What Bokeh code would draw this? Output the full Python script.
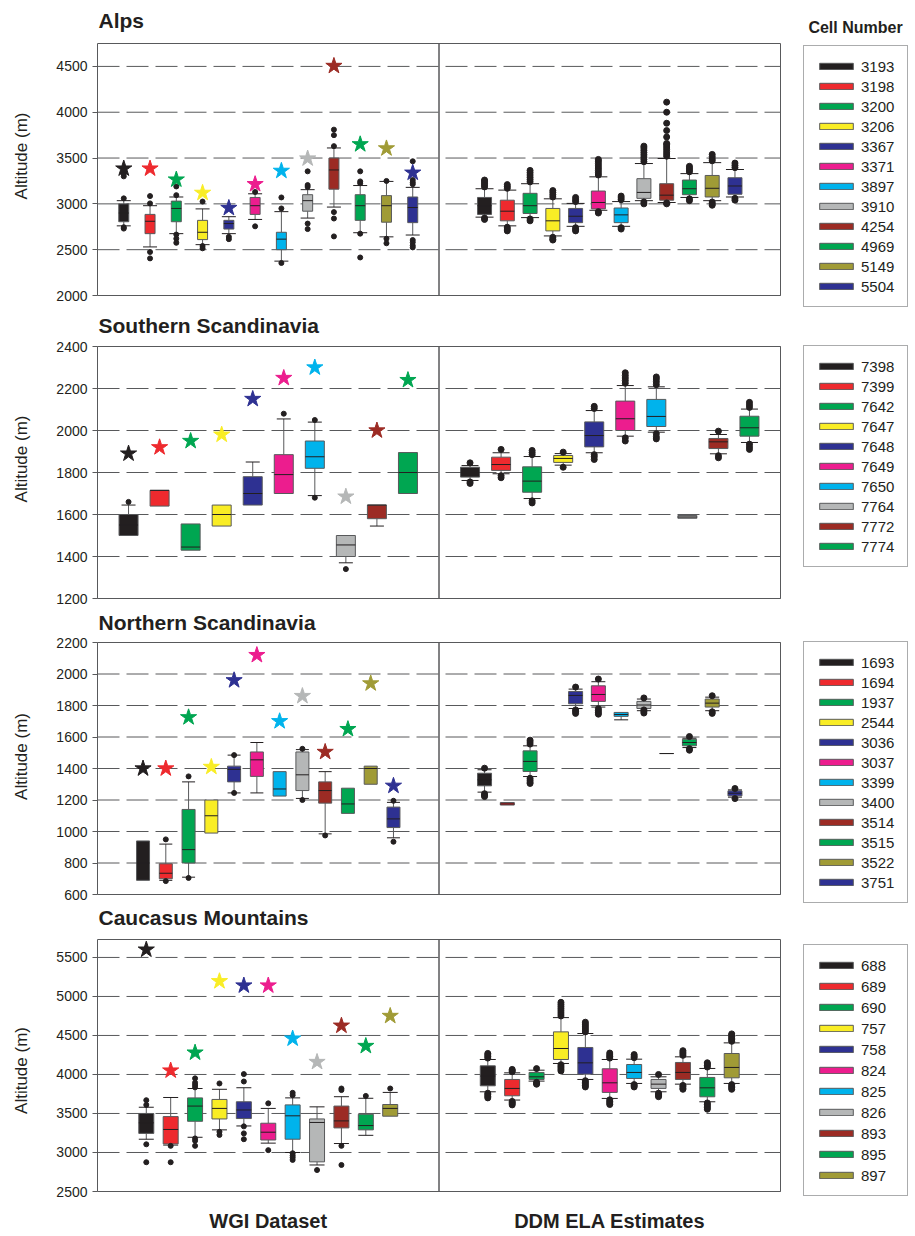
import math
from bokeh.plotting import figure
from bokeh.models import Range1d, FixedTicker, ColumnDataSource, Legend, LegendItem
from bokeh.core.properties import value
from bokeh.layouts import column
from bokeh.embed import file_html
from bokeh.resources import INLINE

NAN = float("nan")

BLACK = "#231f20"
RED = "#ee2a2e"
GREEN = "#00a651"
YELLOW = "#f9ed25"
NAVY = "#2e3192"
PINK = "#ec1d8e"
CYAN = "#00b3ec"
GRAY = "#b5b7b7"
BROWN = "#9c2b24"
OLIVE = "#a09b36"

# ---------------- Alps ----------------
ALPS_CELLS = ["3193", "3198", "3200", "3206", "3367", "3371", "3897", "3910", "4254", "4969", "5149", "5504"]
ALPS_COLORS = [BLACK, RED, GREEN, YELLOW, NAVY, PINK, CYAN, GRAY, BROWN, GREEN, OLIVE, NAVY]
ALPS_TICKS = [2000, 2500, 3000, 3500, 4000, 4500]
ALPS_STAR = [3385, 3385, 3265, 3120, 2955, 3215, 3360, 3495, 4505, 3650, 3605, 3340]
ALPS_WGI_LO = [2760, 2530, 2675, 2555, 2675, 2830, 2375, 2845, 2965, 2685, 2640, 2660]
ALPS_WGI_Q1 = [2805, 2675, 2805, 2610, 2725, 2885, 2500, 2920, 3160, 2820, 2800, 2795]
ALPS_WGI_MED = [2900, 2810, 2950, 2690, 2785, 2980, 2615, 3035, 3370, 2980, 2980, 2960]
ALPS_WGI_Q3 = [3000, 2885, 3030, 2820, 2820, 3070, 2690, 3100, 3500, 3100, 3090, 3075]
ALPS_WGI_HI = [3035, 2980, 3075, 2945, 2860, 3110, 2915, 3155, 3610, 3200, 3245, 3180]
ALPS_WGI_OUT = [
    [3060, 3300, 3330, 2745, 2730],
    [3085, 3005, 2475, 2405],
    [3190, 3095, 2665, 2620, 2575],
    [3025, 2540, 2515],
    [2640, 2615],
    [3130, 2755],
    [3070, 2950, 2355],
    [3355, 3205, 3185, 2785, 2725],
    [3810, 3750, 3630, 2910, 2840, 2645],
    [3355, 3245, 3225, 2675, 2415],
    [3250, 2620, 2570],
    [3465, 3260, 3235, 3215, 2605, 2580, 2545, 2525],
]
ALPS_DDM_LO = [2855, 2760, 2850, 2650, 2755, 2930, 2755, 3035, 3015, 3070, 3035, 3075]
ALPS_DDM_Q1 = [2885, 2815, 2895, 2705, 2795, 2945, 2795, 3060, 3040, 3100, 3075, 3105]
ALPS_DDM_MED = [2980, 2920, 2980, 2815, 2865, 3015, 2880, 3125, 3095, 3165, 3170, 3195]
ALPS_DDM_Q3 = [3070, 3040, 3115, 2950, 2950, 3140, 2955, 3275, 3220, 3260, 3310, 3285]
ALPS_DDM_HI = [3165, 3150, 3220, 3055, 3005, 3295, 3025, 3440, 3495, 3330, 3450, 3375]
ALPS_DDM_OUT = [
    [3185, 3205, 3225, 3245, 3260, 2845, 2830],
    [3170, 3190, 3210, 2745, 2725, 2705],
    [3240, 3265, 3290, 3315, 3340, 3365, 2835, 2815],
    [3075, 3100, 3125, 3145, 2635, 2615, 2605],
    [3025, 3045, 3070, 2740, 2720, 2705],
    [3315, 3340, 3365, 3390, 3415, 3440, 3465, 3485, 2915, 2900],
    [3045, 3065, 3085, 2740, 2725],
    [3460, 3485, 3510, 3535, 3560, 3585, 3610, 3630, 3020, 3000],
    [3520, 3545, 3570, 3595, 3620, 3645, 3660, 3730, 3800, 3880, 4000, 4110, 3010, 3000],
    [3350, 3370, 3390, 3410, 3055, 3035],
    [3470, 3490, 3515, 3540, 3020, 3000, 2985],
    [3395, 3420, 3445, 3060, 3040],
]

# ---------------- Southern Scandinavia ----------------
SS_CELLS = ["7398", "7399", "7642", "7647", "7648", "7649", "7650", "7764", "7772", "7774"]
SS_COLORS = [BLACK, RED, GREEN, YELLOW, NAVY, PINK, CYAN, GRAY, BROWN, GREEN]
SS_TICKS = [1200, 1400, 1600, 1800, 2000, 2200, 2400]
SS_STAR = [1890, 1920, 1950, 1980, 2150, 2250, 2300, 1685, 2000, 2240]
SS_WGI_LO = [1500, 1640, 1430, 1545, 1645, 1700, 1690, 1370, 1545, 1700]
SS_WGI_Q1 = [1500, 1640, 1430, 1545, 1645, 1700, 1820, 1400, 1580, 1700]
SS_WGI_MED = [1550, 1715, 1445, 1600, 1700, 1790, 1875, 1455, 1645, 1800]
SS_WGI_Q3 = [1600, 1715, 1555, 1645, 1780, 1885, 1950, 1500, 1645, 1895]
SS_WGI_HI = [1645, 1715, 1555, 1645, 1850, 2055, 2040, 1500, 1645, 1895]
SS_WGI_OUT = [[1660], [], [], [], [], [2080], [2050, 1680], [1340], [], []]
SS_DDM_LO = [1762, 1794, 1676, 1835, 1894, 1973, 1992, 1582, 1889, 1943]
SS_DDM_Q1 = [1778, 1810, 1706, 1848, 1922, 2000, 2019, 1582, 1914, 1973]
SS_DDM_MED = [1800, 1838, 1759, 1867, 1976, 2056, 2067, 1588, 1946, 2013]
SS_DDM_Q3 = [1825, 1873, 1827, 1881, 2041, 2140, 2148, 1595, 1962, 2068]
SS_DDM_HI = [1833, 1894, 1876, 1890, 2095, 2214, 2208, 1595, 1981, 2102]
SS_DDM_OUT = [
    [1846, 1755, 1748],
    [1910, 1785, 1775],
    [1885, 1895, 1905, 1665, 1655],
    [1897, 1825],
    [2105, 2115, 1885, 1875, 1862],
    [2225, 2238, 2250, 2262, 2275, 1965, 1950],
    [2218, 2232, 2245, 2255, 1985, 1970, 1960],
    [],
    [1997, 1880, 1870],
    [2110, 2122, 2134, 1935, 1922, 1910],
]

# ---------------- Northern Scandinavia ----------------
NS_CELLS = ["1693", "1694", "1937", "2544", "3036", "3037", "3399", "3400", "3514", "3515", "3522", "3751"]
NS_COLORS = [BLACK, RED, GREEN, YELLOW, NAVY, PINK, CYAN, GRAY, BROWN, GREEN, OLIVE, NAVY]
NS_TICKS = [600, 800, 1000, 1200, 1400, 1600, 1800, 2000, 2200]
NS_STAR = [1400, 1400, 1725, 1410, 1960, 2120, 1700, 1860, 1505, 1650, 1940, 1290]
NS_WGI_LO = [690, 690, 710, 990, 1245, 1245, 1225, 1210, 985, 1115, 1300, 960]
NS_WGI_Q1 = [690, 700, 800, 990, 1315, 1350, 1225, 1260, 1180, 1115, 1300, 1025]
NS_WGI_MED = [800, 735, 885, 1100, 1395, 1455, 1270, 1360, 1260, 1175, 1400, 1080]
NS_WGI_Q3 = [940, 795, 1140, 1200, 1415, 1505, 1380, 1505, 1315, 1275, 1415, 1155]
NS_WGI_HI = [940, 920, 1315, 1200, 1485, 1565, 1380, 1520, 1380, 1275, 1415, 1185]
NS_WGI_OUT = [[], [950, 685], [1350, 705], [], [1485, 1245], [], [], [1525, 1200], [975], [], [], [1195, 935]]
NS_DDM_LO = [1250, 1168, 1349, NAN, 1781, 1790, 1709, 1767, 1495, 1533, 1767, 1218]
NS_DDM_Q1 = [1290, 1168, 1381, NAN, 1811, 1826, 1731, 1781, 1495, 1544, 1790, 1226]
NS_DDM_MED = [1328, 1175, 1445, NAN, 1864, 1870, 1743, 1803, 1495, 1565, 1815, 1243]
NS_DDM_Q3 = [1370, 1184, 1512, NAN, 1889, 1925, 1756, 1826, 1495, 1586, 1841, 1258]
NS_DDM_HI = [1392, 1184, 1544, NAN, 1904, 1951, 1756, 1841, 1495, 1592, 1853, 1264]
NS_DDM_OUT = [
    [1402, 1240, 1230, 1222],
    [],
    [1555, 1568, 1580, 1338, 1326, 1314, 1305],
    [],
    [1917, 1772, 1762, 1750],
    [1968, 1780, 1768, 1756, 1745],
    [],
    [1848, 1772, 1762, 1752],
    [],
    [1603, 1526, 1516],
    [1862, 1760, 1750],
    [1273, 1209],
]

# ---------------- Caucasus Mountains ----------------
CA_CELLS = ["688", "689", "690", "757", "758", "824", "825", "826", "893", "895", "897"]
CA_COLORS = [BLACK, RED, GREEN, YELLOW, NAVY, PINK, CYAN, GRAY, BROWN, GREEN, OLIVE]
CA_TICKS = [2500, 3000, 3500, 4000, 4500, 5000, 5500]
CA_STAR = [5600, 4050, 4280, 5195, 5140, 5140, 4460, 4160, 4625, 4365, 4750]
CA_WGI_LO = [3170, 3095, 3195, 3290, 3340, 3120, 3000, 2840, 3115, 3220, 3465]
CA_WGI_Q1 = [3245, 3110, 3400, 3430, 3435, 3160, 3170, 2880, 3315, 3290, 3465]
CA_WGI_MED = [3380, 3295, 3595, 3565, 3545, 3260, 3470, 3385, 3405, 3345, 3565]
CA_WGI_Q3 = [3500, 3460, 3700, 3680, 3650, 3375, 3610, 3430, 3595, 3490, 3615]
CA_WGI_HI = [3580, 3705, 3820, 3810, 3830, 3565, 3700, 3585, 3715, 3695, 3770]
CA_WGI_OUT = [
    [3670, 3610, 3105, 2875],
    [3085, 2875],
    [3950, 3895, 3865, 3835, 3180, 3150, 3085],
    [3885, 3265, 3225],
    [4005, 3910, 3335, 3245, 3170],
    [3630, 3030],
    [3765, 3735, 2990, 2960, 2935, 2905],
    [2775],
    [3820, 3800, 3085, 2840],
    [3725],
    [3820],
]
CA_DDM_LO = [3778, 3672, 3915, 4141, 3936, 3693, 3885, 3778, 3876, 3650, 3885]
CA_DDM_Q1 = [3855, 3727, 3936, 4192, 4004, 3770, 3949, 3821, 3936, 3714, 3957]
CA_DDM_MED = [3980, 3821, 3970, 4333, 4149, 3893, 4026, 3876, 4026, 3829, 4090]
CA_DDM_Q3 = [4111, 3936, 4026, 4546, 4346, 4073, 4128, 3936, 4154, 3962, 4269]
CA_DDM_HI = [4192, 4021, 4055, 4729, 4525, 4192, 4196, 3970, 4226, 4077, 4405]
CA_DDM_OUT = [
    [4210, 4230, 4250, 4270, 3760, 3740, 3720, 3700],
    [4035, 4050, 4065, 3655, 3640, 3625, 3610],
    [4075, 3900, 3885, 3875],
    [4750, 4775, 4800, 4825, 4850, 4875, 4900, 4925, 4125, 4105, 4085, 4065, 4045],
    [4545, 4570, 4595, 4620, 4645, 4670, 3920, 3900, 3880, 3860, 3840],
    [4210, 4230, 4250, 4275, 3675, 3655, 3635, 3615],
    [4215, 4235, 4255, 3870, 3855, 3840],
    [4000, 3760, 3745, 3730, 3715],
    [4245, 4265, 4285, 4305, 3860, 3845, 3825, 3810],
    [4095, 4115, 4135, 4150, 3635, 3615, 3595, 3575, 3555],
    [4425, 4445, 4465, 4485, 4505, 4520, 3870, 3850, 3830, 3810],
]

PANEL_LABELS = ["WGI Dataset", "DDM ELA Estimates"]
LEGEND_TITLE = "Cell Number"

# ---------------- styling / layout ----------------
FONT = "Liberation Sans"
INK = "#231f20"
LINE = "#58595b"
FIG_W = 912
BORDER_L = 97
PANELS_PX = 683.0                 # width of the two boxed panels together
FRAME_W = FIG_W - BORDER_L        # drawing frame (panels + legend column)
UNIT_PX = PANELS_PX / 4.0         # the two panels span x = 0..4
X_MAX = FRAME_W / UNIT_PX


def px(v):
    return v / UNIT_PX


def positions(panel, n, slots):
    off = (slots - n - 1) / 2.0
    return [2.0 * panel + 2.0 * (i + 1 + off) / slots for i in range(n)]


def draw_panel(p, xs, colors, lo, q1, med, q3, hi, out, bw, cw, dot):
    wx, wy0, wy1 = [], [], []
    for x, a, b, c, d in zip(xs, lo, q1, q3, hi):
        wx += [x, x]
        wy0 += [b, c]
        wy1 += [a, d]
    p.segment(x0=wx, y0=wy0, x1=wx, y1=wy1, line_color=LINE, line_width=1)
    cx0, cx1, cy = [], [], []
    for x, a, b, c, d in zip(xs, lo, q1, q3, hi):
        if a < b:
            cx0.append(x - px(cw) / 2); cx1.append(x + px(cw) / 2); cy.append(a)
        if d > c:
            cx0.append(x - px(cw) / 2); cx1.append(x + px(cw) / 2); cy.append(d)
    p.segment(x0=cx0, y0=cy, x1=cx1, y1=cy, line_color=INK, line_width=1)
    src = ColumnDataSource(dict(x=xs, top=q3, bottom=q1, color=colors))
    r = p.vbar(x="x", width=px(bw), top="top", bottom="bottom", fill_color="color",
               line_color=LINE, line_width=1, source=src)
    p.segment(x0=[x - px(bw) / 2 for x in xs], y0=med, x1=[x + px(bw) / 2 for x in xs], y1=med,
              line_color=INK, line_width=1)
    ox, oy = [], []
    for x, vals in zip(xs, out):
        for v in vals:
            ox.append(x)
            oy.append(v)
    p.scatter(ox, oy, size=dot, fill_color=INK, line_color=INK)
    return r


def make_row(title, cells, colors, star, wgi, ddm, yr, ticks, slots, bw, cw,
             height, ptop, pbot, title_py, legend_bottom_py, legend_spacing):
    y0, y1 = yr
    k = (y1 - y0) / float(pbot - ptop)          # data units per pixel
    top_v = y1 + k * ptop
    bot_v = y0 - k * (height - pbot)

    def ypx(py):
        return top_v - k * py

    p = figure(width=FIG_W, height=height, x_range=Range1d(0, X_MAX), y_range=Range1d(bot_v, top_v),
               output_backend="svg", toolbar_location=None,
               min_border_left=BORDER_L, min_border_right=0, min_border_top=0, min_border_bottom=0,
               x_axis_location=None)
    p.background_fill_color = "white"
    p.border_fill_color = "white"
    p.outline_line_color = None
    p.xgrid.visible = False
    p.ygrid.visible = False

    ya = p.yaxis[0]
    ya.ticker = FixedTicker(ticks=ticks)
    ya.bounds = (y0, y1)
    ya.axis_label = "Altitude (m)"
    ya.axis_label_text_font = FONT
    ya.axis_label_text_font_size = "17px"
    ya.axis_label_text_font_style = "normal"
    ya.axis_label_text_color = INK
    ya.axis_label_standoff = 22
    ya.major_label_text_font = FONT
    ya.major_label_text_font_size = "14px"
    ya.major_label_text_color = INK
    ya.major_label_standoff = 5
    ya.major_tick_out = 5
    ya.major_tick_in = 0
    ya.major_tick_line_color = LINE
    ya.minor_tick_line_color = None
    ya.axis_line_color = LINE

    # dashed altitude grid across both panels
    p.segment(x0=[0] * len(ticks), y0=ticks, x1=[4] * len(ticks), y1=ticks,
              line_color=LINE, line_width=1, line_dash="22 7")

    n = len(cells)
    xl = positions(0, n, slots[0])
    xr = positions(1, n, slots[1])
    rbox = draw_panel(p, xl, colors, *wgi, bw[0], cw[0], 5)
    draw_panel(p, xr, colors, *ddm, bw[1], cw[1], 6)
    p.scatter(xl, star, marker="star", size=17, fill_color=colors, line_color=colors)

    # panel frames
    p.quad(left=[0, 2], right=[2, 4], bottom=[y0, y0], top=[y1, y1],
           fill_color=None, line_color=LINE, line_width=1)

    # region title
    p.text(x=[px(1)], y=[ypx(title_py)], text=[title], text_font=value(FONT),
           text_font_size="21px", text_font_style="bold", text_color=INK,
           text_align="left", text_baseline="middle")

    items = [LegendItem(label=c, renderers=[rbox], index=i) for i, c in enumerate(cells)]
    leg = Legend(items=items, location=(706, height - legend_bottom_py), orientation="vertical",
                 glyph_width=42, glyph_height=8, label_height=18, spacing=legend_spacing,
                 padding=11, label_standoff=4, label_width=35, margin=0,
                 label_text_font=FONT, label_text_font_size="15px", label_text_color=INK,
                 border_line_color=LINE, border_line_width=1,
                 background_fill_color="white", background_fill_alpha=1.0)
    p.add_layout(leg)
    return p, ypx


p1, ypx1 = make_row("Alps", ALPS_CELLS, ALPS_COLORS, ALPS_STAR,
                    (ALPS_WGI_LO, ALPS_WGI_Q1, ALPS_WGI_MED, ALPS_WGI_Q3, ALPS_WGI_HI, ALPS_WGI_OUT),
                    (ALPS_DDM_LO, ALPS_DDM_Q1, ALPS_DDM_MED, ALPS_DDM_Q3, ALPS_DDM_HI, ALPS_DDM_OUT),
                    (2000, 4750), ALPS_TICKS, (13, 15), (10, 14), (14, 18),
                    311, 43, 295, 20, 307, 2)
p1.text(x=[px(758)], y=[ypx1(27)], text=[LEGEND_TITLE], text_font=value(FONT),
        text_font_size="16px", text_font_style="bold", text_color=INK,
        text_align="center", text_baseline="middle")

p2, _ = make_row("Southern Scandinavia", SS_CELLS, SS_COLORS, SS_STAR,
                 (SS_WGI_LO, SS_WGI_Q1, SS_WGI_MED, SS_WGI_Q3, SS_WGI_HI, SS_WGI_OUT),
                 (SS_DDM_LO, SS_DDM_Q1, SS_DDM_MED, SS_DDM_Q3, SS_DDM_HI, SS_DDM_OUT),
                 (1200, 2400), SS_TICKS, (11, 11), (19, 19), (14, 17),
                 295, 35, 287, 14, 256, 2)

p3, _ = make_row("Northern Scandinavia", NS_CELLS, NS_COLORS, NS_STAR,
                 (NS_WGI_LO, NS_WGI_Q1, NS_WGI_MED, NS_WGI_Q3, NS_WGI_HI, NS_WGI_OUT),
                 (NS_DDM_LO, NS_DDM_Q1, NS_DDM_MED, NS_DDM_Q3, NS_DDM_HI, NS_DDM_OUT),
                 (600, 2200), NS_TICKS, (15, 15), (13, 14), (13, 14),
                 300, 36, 288, 16, 297, 2)

p4, ypx4 = make_row("Caucasus Mountains", CA_CELLS, CA_COLORS, CA_STAR,
                    (CA_WGI_LO, CA_WGI_Q1, CA_WGI_MED, CA_WGI_Q3, CA_WGI_HI, CA_WGI_OUT),
                    (CA_DDM_LO, CA_DDM_Q1, CA_DDM_MED, CA_DDM_Q3, CA_DDM_HI, CA_DDM_OUT),
                    (2500, 5730), CA_TICKS, (14, 14), (15, 15), (15, 16),
                    328, 33, 285, 11, 290, 3)
p4.text(x=[1, 3], y=[ypx4(314), ypx4(314)], text=PANEL_LABELS, text_font=value(FONT),
        text_font_size="20px", text_font_style="bold", text_color=INK,
        text_align="center", text_baseline="middle")

layout = column(p1, p2, p3, p4, spacing=0)
open("out.html", "w").write(file_html(layout, INLINE))
